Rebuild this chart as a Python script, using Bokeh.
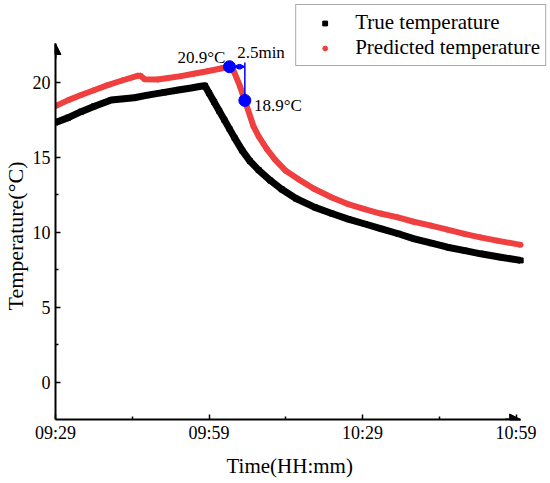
from bokeh.plotting import figure
from bokeh.models import FixedTicker, Arrow, NormalHead, Legend, LegendItem, Range1d, Title
from bokeh.embed import file_html
from bokeh.resources import INLINE
from bokeh.core.properties import value

# ---- data (minutes after 09:29) ----
true_t = [0, 2.5, 5, 7.5, 10.9, 15.4, 18, 21.25, 24, 26.5, 28.4, 29.2, 30, 31, 32, 33, 34, 35,
          36.5, 38, 39.7, 42, 44.2, 47, 50.7, 54, 57.2, 60.5, 63.7, 67, 70.1, 73.5, 76.6,
          80, 83.1, 87, 90.9]
true_v = [17.33, 17.65, 18.05, 18.4, 18.83, 18.98, 19.15, 19.34, 19.5, 19.63, 19.75, 19.78, 19.3,
          18.7, 18.1, 17.5, 16.9, 16.3, 15.45, 14.75, 14.15, 13.45, 12.87, 12.25, 11.66, 11.25,
          10.88, 10.55, 10.22, 9.9, 9.56, 9.27, 9.0, 8.77, 8.56, 8.33, 8.12]

pred_t = [0, 2.5, 5, 7.5, 10.2, 13, 16, 16.6, 17.4, 20, 22, 24.5, 27, 29.7, 32.3, 34.0, 34.9,
          36.1, 37.1, 38.7, 39.7, 41.3, 42.9, 45, 47.5, 50.5, 54, 57, 60.4, 63.5, 66.9, 70,
          73.4, 76.6, 79.9, 83, 86.3, 90.9]
pred_v = [18.43, 18.82, 19.16, 19.48, 19.82, 20.13, 20.44, 20.45, 20.22, 20.2, 20.3, 20.42,
          20.58, 20.75, 20.93, 21.05, 20.7, 19.7, 18.7, 17.06, 16.4, 15.55, 14.85, 14.1, 13.53,
          12.9, 12.32, 11.9, 11.54, 11.25, 10.99, 10.7, 10.44, 10.17, 9.89, 9.66, 9.44, 9.16]

mark_t = [34.0, 37.0]
mark_v = [21.05, 18.8]
mark_labels = ["20.9\u00b0C", "18.9\u00b0C"]
lag_label = "2.5min"

x_ticks = [0, 30, 60, 90]
x_minor = [15, 45, 75]
x_tick_labels = ["09:29", "09:59", "10:29", "10:59"]
y_ticks = [0, 5, 10, 15, 20]
y_minor = [2.5, 7.5, 12.5, 17.5]
x_bounds = (0, 90.9)
y_bounds = (-2.5, 22.6)

FONT = "Liberation Serif"
RED = "#EF3F3F"
BLUE = "#0000FF"

p = figure(width=550, height=483, output_backend="svg", toolbar_location=None,
           x_range=Range1d(0, 96.73), y_range=Range1d(-2.5, 25.47),
           min_border_left=52, min_border_right=0, min_border_top=0, min_border_bottom=61)
p.outline_line_color = None
p.grid.visible = False
p.background_fill_color = "white"

# axes
for ax in (p.xaxis[0], p.yaxis[0]):
    ax.axis_line_width = 2
    ax.axis_line_color = "black"
    ax.major_tick_in = 5
    ax.major_tick_out = 0
    ax.minor_tick_in = 3
    ax.minor_tick_out = 0
    ax.major_tick_line_width = 1.5
    ax.minor_tick_line_width = 1.5
    ax.major_label_text_font = FONT
    ax.major_label_text_font_size = "18px"
    ax.major_label_text_color = "black"

p.xaxis.ticker = FixedTicker(ticks=x_ticks, minor_ticks=x_minor)
p.xaxis.major_label_overrides = {t: l for t, l in zip(x_ticks, x_tick_labels)}
p.xaxis.major_label_standoff = 3
p.xaxis.bounds = x_bounds

p.yaxis.ticker = FixedTicker(ticks=y_ticks, minor_ticks=y_minor)
p.yaxis.major_label_standoff = 5
p.yaxis.bounds = y_bounds

# axis titles (placed with offsets so they centre on the drawn axis lines)
xlab = Title(text="Time(HH:mm)", align="left", offset=171, vertical_align="bottom", standoff=12,
             text_font=FONT, text_font_size="21px", text_font_style="normal", text_color="black")
p.add_layout(xlab, "below")
ylab = Title(text="Temperature(\u00b0C)", align="left", offset=109, vertical_align="middle", standoff=2,
             text_font=FONT, text_font_size="22px", text_font_style="normal", text_color="black")
p.add_layout(ylab, "left")

# axis arrow heads
p.add_layout(Arrow(end=NormalHead(size=11, fill_color="black", line_color="black"),
                   x_start=0, y_start=y_bounds[1] - 1, x_end=0, y_end=y_bounds[1],
                   line_color="black", line_width=2))
p.add_layout(Arrow(end=NormalHead(size=11, fill_color="black", line_color="black"),
                   x_start=x_bounds[1] - 3, y_start=-2.5, x_end=x_bounds[1], y_end=-2.5,
                   line_color="black", line_width=2))

# series
p.line(true_t, true_v, line_color="black", line_width=7, line_join="round")
p.line(pred_t, pred_v, line_color=RED, line_width=6, line_join="round")
r_true = p.scatter(true_t, true_v, marker="square", size=5, color="black")
r_pred = p.scatter(pred_t, pred_v, marker="circle", size=5, color=RED)

# annotation
p.segment(x0=[mark_t[1]], y0=[21.33], x1=[mark_t[1]], y1=[mark_v[1]], line_color=BLUE, line_width=1.5)
p.add_layout(Arrow(start=NormalHead(size=5, fill_color=BLUE, line_color=BLUE),
                   end=NormalHead(size=5, fill_color=BLUE, line_color=BLUE),
                   x_start=mark_t[0] + 0.9, y_start=mark_v[0], x_end=mark_t[1], y_end=mark_v[0],
                   line_color=BLUE, line_width=1))
p.scatter(mark_t, mark_v, size=12, color=BLUE)
p.text(x=[33.2], y=[21.64], text=[mark_labels[0]], text_font=value(FONT),
       text_font_size="17px", text_align="right", text_baseline="alphabetic", text_color="black")
p.text(x=[38.8], y=[18.43], text=[mark_labels[1]], text_font=value(FONT),
       text_font_size="17px", text_align="left", text_baseline="alphabetic", text_color="black")
p.text(x=[35.5], y=[22.0], text=[lag_label], text_font=value(FONT),
       text_font_size="17px", text_align="left", text_baseline="alphabetic", text_color="black")

legend = Legend(items=[LegendItem(label="True temperature", renderers=[r_true]),
                       LegendItem(label="Predicted temperature", renderers=[r_pred])],
                location="top_right")
legend.label_text_font = FONT
legend.label_text_font_size = "21px"
legend.label_text_color = "black"
legend.glyph_width = 47
legend.glyph_height = 12
legend.label_height = 21
legend.label_standoff = 7
legend.spacing = 0
legend.padding = 5
legend.margin = 4
legend.border_line_color = "#555555"
legend.border_line_width = 1.2
legend.background_fill_alpha = 1
p.add_layout(legend, "center")

open("out.html", "w").write(file_html(p, INLINE))
